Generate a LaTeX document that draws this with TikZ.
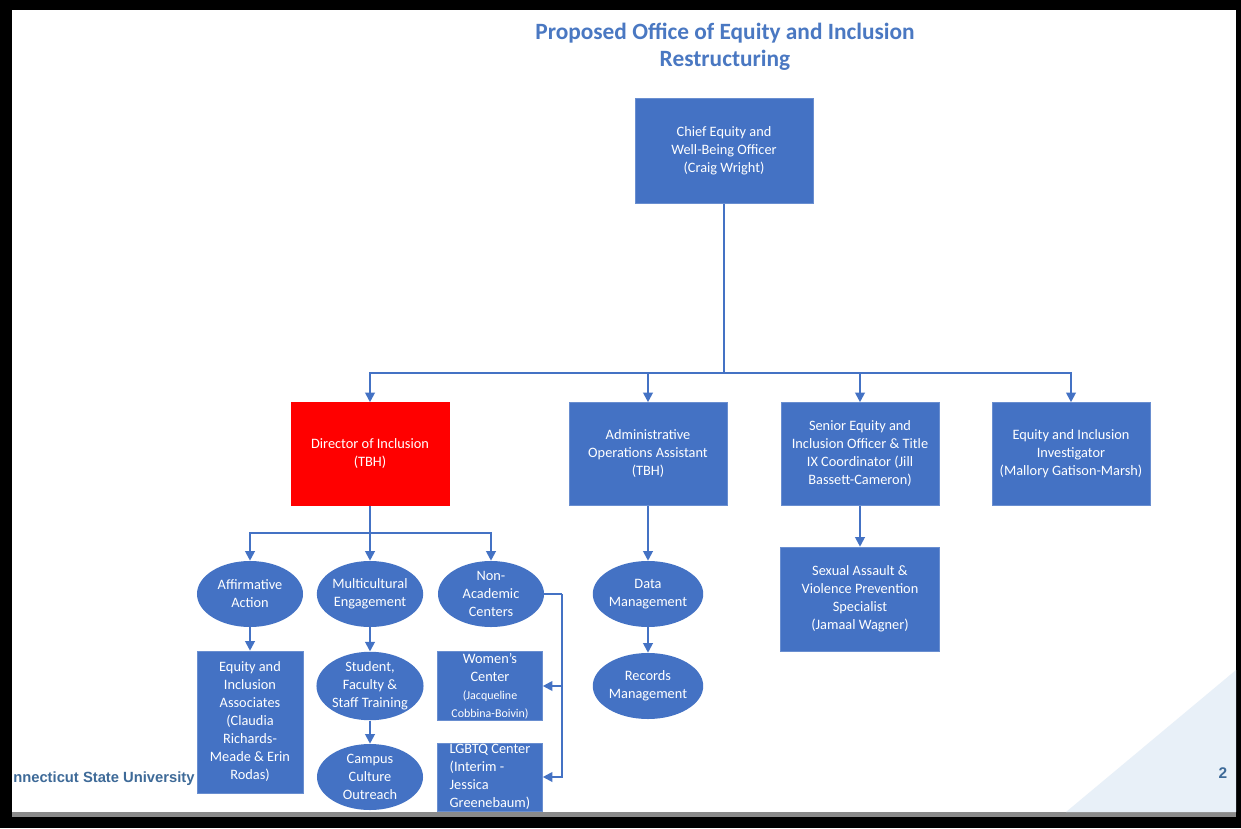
\documentclass[tikz,border=0pt]{standalone}
\usepackage{fontspec}
\setmainfont{Carlito}
\newfontfamily\footfont{Liberation Sans}
\usetikzlibrary{shapes.geometric,arrows.meta}
\definecolor{orgblue}{HTML}{4472C4}
\definecolor{titleblue}{HTML}{4A78C2}
\definecolor{footblue}{HTML}{3E6A98}
\definecolor{paleblue}{HTML}{E8F0F8}
\definecolor{edgegray}{HTML}{8A8A8A}
\begin{document}
\begin{tikzpicture}[x=0.025cm, y=-0.025cm]
\tikzstyle{box} = [draw=orgblue!80!white, fill=orgblue, text=white, align=center, inner sep=1pt, font=\fontsize{10.2}{12.8}\selectfont];
\tikzstyle{bigbox} = [box, minimum width=3.95cm, minimum height=2.575cm];
\tikzstyle{oval} = [ellipse, fill=orgblue, text=white, align=center, inner sep=0pt, minimum width=2.65cm, minimum height=1.65cm, font=\fontsize{10.2}{12.8}\selectfont];
\tikzstyle{arr} = [draw=orgblue, line width=1.4pt, -{Triangle[length=2.4mm,width=2.4mm]}];
\tikzstyle{ln} = [draw=orgblue, line width=1.4pt];
% frame and background
\useasboundingbox (0,0) rectangle (1241,828);
\fill[black] (0,0) rectangle (1241,828);
\fill[white] (12,10) rectangle (1236,812);
\fill[edgegray] (12,812) rectangle (1236,817);
\fill[paleblue] (1066,812) -- (1236,670) -- (1236,812) -- cycle;
% title
\node[text=titleblue, font=\fontsize{16.6}{19.2}\selectfont\bfseries, align=center] (title) at (725,47) {Proposed Office of Equity and Inclusion\\Restructuring};
% top level
\node[box, minimum width=4.45cm, minimum height=2.625cm] (chief) at (724,151) {Chief Equity and\\Well-Being Officer\\(Craig Wright)};
\node[bigbox, fill=red, draw=red] (dir) at (370,454) {Director of Inclusion\\(TBH)};
\node[bigbox] (admin) at (648,454) {Administrative\\Operations Assistant\\(TBH)};
\node[bigbox] (senior) at (860,454) {Senior Equity and\\Inclusion Officer \& Title\\IX Coordinator (Jill\\Bassett-Cameron)};
\node[bigbox] (inv) at (1071,454) {Equity and Inclusion\\Investigator\\(Mallory Gatison-Marsh)};
% director branch
\node[oval] (aff) at (250,594) {Affirmative\\Action};
\node[oval] (multi) at (370,594) {Multicultural\\Engagement};
\node[oval] (nonac) at (491,594) {Non-\\Academic\\Centers};
\node[box, minimum width=2.65cm, minimum height=3.55cm] (assoc) at (250,722) {Equity and\\Inclusion\\Associates\\(Claudia\\Richards-\\Meade \& Erin\\Rodas)};
\node[oval] (train) at (370,686) {Student,\\Faculty \&\\Staff Training};
\node[oval] (campus) at (370,777) {Campus\\Culture\\Outreach};
\node[box, minimum width=2.625cm, minimum height=1.7cm] (women) at (490,686) {Women's\\Center\\{\fontsize{8.5}{12.8}\selectfont(Jacqueline}\\{\fontsize{8.5}{12.8}\selectfont Cobbina-Boivin)}};
\node[box, minimum width=2.625cm, minimum height=1.7cm, align=left] (lgbtq) at (490,777) {LGBTQ Center\\(Interim -\\Jessica\\Greenebaum)};
% admin and senior branches
\node[oval] (data) at (648,594) {Data\\Management};
\node[oval] (records) at (648,686) {Records\\Management};
\node[box, minimum width=3.975cm, minimum height=2.6cm] (sexual) at (860,599) {Sexual Assault \&\\Violence Prevention\\Specialist\\(Jamaal Wagner)};
% footer
\node[text=footblue, font=\footfont\fontsize{10.5}{12}\selectfont\bfseries, anchor=west, inner sep=0pt] (uni) at (13,779) {nnecticut State University};
\node[text=footblue, font=\footfont\fontsize{11}{12}\selectfont\bfseries, inner sep=0pt] (page) at (1223,773) {2};
% connectors
\coordinate (topbus) at (724,373);
\coordinate (dirbus) at (370,533);
\coordinate (ncbus) at (562,594);
\draw[ln] (chief.south) -- (topbus);
\foreach \n in {dir, admin, senior, inv}
  \draw[arr] (topbus) -| (\n.north);
\draw[ln] (dir.south) -- (dirbus);
\foreach \n in {aff, multi, nonac}
  \draw[arr] (dirbus) -| (\n.north);
\draw[arr] (aff) -- (assoc);
\draw[arr] (multi) -- (train);
\draw[arr] (train) -- (campus);
\draw[ln] (nonac.east) -- (ncbus);
\draw[arr] (ncbus) |- (women.east);
\draw[arr] (ncbus) |- (lgbtq.east);
\draw[arr] (admin) -- (data);
\draw[arr] (data) -- (records);
\draw[arr] (senior) -- (sexual);
\end{tikzpicture}
\end{document}
